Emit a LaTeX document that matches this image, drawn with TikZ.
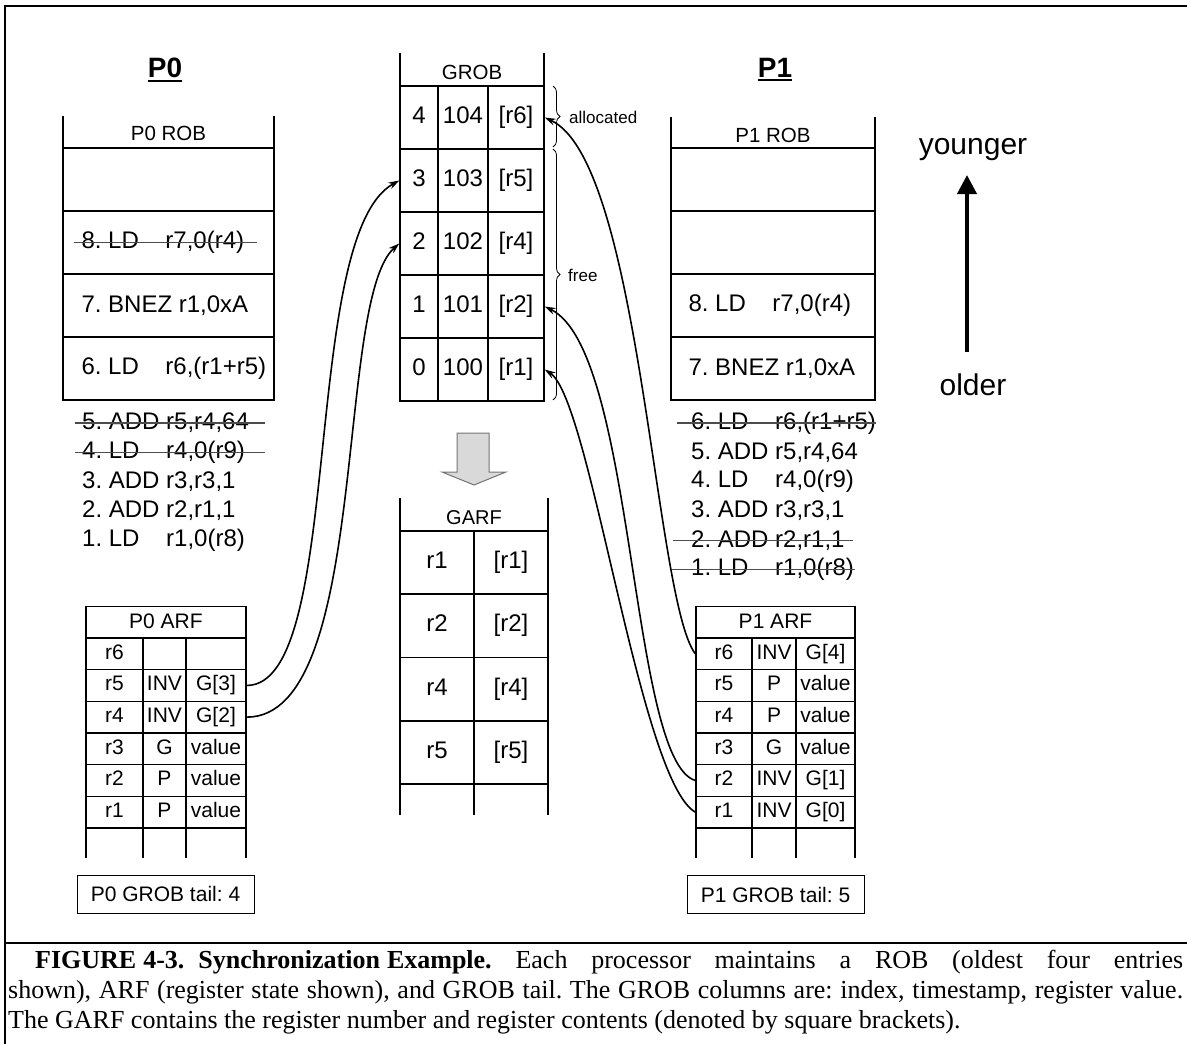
\documentclass[tikz,border=0pt]{standalone}
\usepackage{fontspec}
\setmainfont{Liberation Sans}
\newfontfamily\capfont{Liberation Serif}
\usepackage{tikz}
\usetikzlibrary{arrows.meta,decorations.pathreplacing}

\newcommand{\opc}[2]{\makebox[84pt][l]{#1}#2}

\begin{document}
\frenchspacing
\begin{tikzpicture}[
  x=1pt,y=-1pt,
  ln/.style={line width=1.4pt},
  cell/.style={draw,line width=1.4pt,inner sep=0pt,minimum height=63pt,text height=17pt,text depth=5pt,font=\fontsize{24}{28}\selectfont},
  acell/.style={draw,line width=1.4pt,inner sep=0pt,minimum height=31.7pt,text height=15pt,text depth=4pt,font=\fontsize{21}{24}\selectfont},
  hdr/.style={inner sep=0pt,font=\fontsize{20.5}{24}\selectfont},
  ins/.style={anchor=west,inner sep=0pt,font=\fontsize{24}{28}\selectfont},
  strike/.style={line width=1.3pt,black!70},
  title/.style={inner sep=0pt,font=\fontsize{28}{32}\selectfont\bfseries},
  link/.style={line width=1.6pt,-{Stealth[length=11pt,width=7pt]}},
  tailbox/.style={draw,line width=1pt,inner sep=0pt,minimum width=177pt,minimum height=38pt,font=\fontsize{21}{24}\selectfont},
  lbl/.style={anchor=west,inner sep=0pt,font=\fontsize{17}{20}\selectfont},
  brc/.style={decorate,decoration={brace,amplitude=7pt},line width=0.8pt},
]
\useasboundingbox (0,0) rectangle (1187,1044);
\draw[line width=2.4pt] (1187,6) -- (5,6) -- (5,1044);
\draw[line width=2.4pt] (5,943) -- (1187,943);

\node[title] (p0t) at (165,68) {P0};
\draw[line width=1.8pt] ([yshift=-2.5pt]p0t.south west) -- ([yshift=-2.5pt]p0t.south east);
\node[title] (p1t) at (775,68) {P1};
\draw[line width=1.8pt] ([yshift=-2.5pt]p1t.south west) -- ([yshift=-2.5pt]p1t.south east);

\node[hdr] (p0h) at (168.5,133) {P0 ROB};
\draw[ln] (63,116) -- (63,148) (274,116) -- (274,148);
\foreach \j in {1,...,4}
  \node[cell,minimum width=211pt] (p0q\j) at (168.5,{116.5+63*\j}) {};
\node[ins] (p0i8) at ([xshift=19pt]p0q2.west) {\opc{8. LD}{r7,0(r4)}};
\node[ins] (p0i7) at ([xshift=19pt]p0q3.west) {7. BNEZ r1,0xA};
\node[ins] (p0i6) at ([xshift=19pt]p0q4.west) {\opc{6. LD}{r6,(r1+r5)}};
\draw[strike] ([xshift=-7pt]p0i8.west) -- ++(183,0);

\node[ins] (p0i5) at (82,423) {\opc{5. ADD}{r5,r4,64}};
\node[ins] (p0i4) at (82,452.3) {\opc{4. LD}{r4,0(r9)}};
\node[ins] (p0i3) at (82,481.6) {\opc{3. ADD}{r3,r3,1}};
\node[ins] (p0i2) at (82,510.9) {\opc{2. ADD}{r2,r1,1}};
\node[ins] (p0i1) at (82,540.2) {\opc{1. LD}{r1,0(r8)}};
\draw[strike] ([xshift=-7pt]p0i5.west) -- ++(190,0);
\draw[strike] ([xshift=-7pt]p0i4.west) -- ++(190,0);

\node[hdr] (p1h) at (773,135) {P1 ROB};
\draw[ln] (671,117) -- (671,148) (875,117) -- (875,148);
\foreach \j in {1,...,4}
  \node[cell,minimum width=204pt] (p1q\j) at (773,{116.5+63*\j}) {};
\node[ins] (p1i8) at ([xshift=18pt]p1q3.west) {\opc{8. LD}{r7,0(r4)}};
\node[ins] (p1i7) at ([xshift=18pt]p1q4.west) {7. BNEZ r1,0xA};

\node[ins] (p1i6) at (691,423) {\opc{6. LD}{r6,(r1+r5)}};
\node[ins] (p1i5) at (691,452.3) {\opc{5. ADD}{r5,r4,64}};
\node[ins] (p1i4) at (691,481.6) {\opc{4. LD}{r4,0(r9)}};
\node[ins] (p1i3) at (691,510.9) {\opc{3. ADD}{r3,r3,1}};
\node[ins] (p1i2) at (691,540.2) {\opc{2. ADD}{r2,r1,1}};
\node[ins] (p1i1) at (691,569.5) {\opc{1. LD}{r1,0(r8)}};
\draw[strike] ([xshift=-14pt]p1i6.west) -- ++(199,0);
\draw[strike] ([xshift=-18pt]p1i2.west) -- ++(180,0);
\draw[strike] ([xshift=-19pt]p1i1.west) -- ++(183,0);

\node[font=\fontsize{30}{34}\selectfont,inner sep=0pt] (young) at (973,149.5) {younger};
\node[font=\fontsize{30}{34}\selectfont,inner sep=0pt] (old) at (973,385) {older};
\coordinate (agelo) at (967,352);
\coordinate (agehi) at (967,175);
\draw[line width=4pt,-{Triangle[length=19pt,width=19pt]}] (agelo) -- (agehi);

\node[hdr] (gh) at (472,72) {GROB};
\draw[ln] (400,53) -- (400,85) (544,53) -- (544,85);
\foreach \k/\v in {0/r1,1/r2,2/r4,3/r5,4/r6}{
  \node[cell,minimum width=38pt] (g\k-i) at (419,{369.5-63*\k}) {\k};
  \node[cell,minimum width=50pt] (g\k-t) at (463,{369.5-63*\k}) {10\k};
  \node[cell,minimum width=56pt] (g\k-v) at (516,{369.5-63*\k}) {[\v]};
}
\draw[brc] (553,86) -- (553,147);
\draw[brc] (553,149) -- (553,400);
\node[lbl] (alloc) at (569,117) {allocated};
\node[lbl] (free) at (568,275) {free};

\draw[fill=black!15,draw=black!55,line width=1pt] (457,433) -- (489,433) -- (489,472) -- (506,472)
  -- (474,485) -- (442,472) -- (457,472) -- cycle;

\node[hdr,font=\fontsize{20}{24}\selectfont] (gah) at (474,518) {GARF};
\draw[ln] (400,498) -- (400,531) (548,498) -- (548,531);
\foreach \r [count=\j from 0] in {r1,r2,r4,r5}{
  \node[cell,minimum width=74pt] (ga\j-n) at (437,{562.5+63.3*\j}) {\r};
  \node[cell,minimum width=74pt] (ga\j-v) at (511,{562.5+63.3*\j}) {[\r]};
}
\draw[ln] (400,784) -- (400,815) (474,784) -- (474,815) (548,784) -- (548,815);

\node[acell,minimum width=160pt] (p0ah) at (166,622.5) {P0 ARF};
\foreach \r/\s/\v [count=\j from 0] in {r6/{}/{},r5/INV/G[3],r4/INV/G[2],r3/G/value,r2/P/value,r1/P/value}{
  \node[acell,minimum width=57pt] (p0\r-n) at (114.5,{653.8+31.67*\j}) {\r};
  \node[acell,minimum width=43pt] (p0\r-s) at (164.5,{653.8+31.67*\j}) {\s};
  \node[acell,minimum width=60pt] (p0\r-v) at (216,{653.8+31.67*\j}) {\v};
}
\draw[ln] (86,828) -- (86,858) (143,828) -- (143,858) (186,828) -- (186,858) (246,828) -- (246,858);
\node[tailbox] (p0tail) at (165.5,894) {P0 GROB tail: 4};

\node[acell,minimum width=159pt] (p1ah) at (775.5,622.5) {P1 ARF};
\foreach \r/\s/\v [count=\j from 0] in {r6/INV/G[4],r5/P/value,r4/P/value,r3/G/value,r2/INV/G[1],r1/INV/G[0]}{
  \node[acell,minimum width=56pt] (p1\r-n) at (724,{653.8+31.67*\j}) {\r};
  \node[acell,minimum width=44pt] (p1\r-s) at (774,{653.8+31.67*\j}) {\s};
  \node[acell,minimum width=59pt] (p1\r-v) at (825.5,{653.8+31.67*\j}) {\v};
}
\draw[ln] (696,828) -- (696,858) (752,828) -- (752,858) (796,828) -- (796,858) (855,828) -- (855,858);
\node[tailbox] (p1tail) at (775.5,894.5) {P1 GROB tail: 5};

\draw[link] (p0r5-v.east) .. controls +(99,0) and +(-100,55) .. (g3-i.west);
\draw[link] (p0r4-v.east) .. controls +(124,0) and +(-65,57) .. (g2-i.west);
\draw[link] (p1r6-n.west) .. controls +(-41,-54) and +(96,44) .. (g4-v.east);
\draw[link] (p1r2-n.west) .. controls +(-66,-20) and +(91,44) .. (g1-v.east);
\draw[link] (p1r1-n.west) .. controls +(-56,-32) and +(46,30) .. (g0-v.east);

\node[anchor=north west,inner sep=0pt,text width=1175pt,align=justify,
  font=\capfont\fontsize{26}{30}\selectfont] (cap) at (8,950)
  {\noindent\hspace*{27pt}\textbf{FIGURE\hspace{7pt}4-3.\hspace{14pt}Synchronization\hspace{7pt}Example.} Each processor maintains a ROB (oldest four entries\linebreak
  shown), ARF (register state shown), and GROB tail. The GROB columns are: index, timestamp, register value.\linebreak
  The GARF contains the register number and register contents (denoted by square brackets).};
\end{tikzpicture}
\end{document}
